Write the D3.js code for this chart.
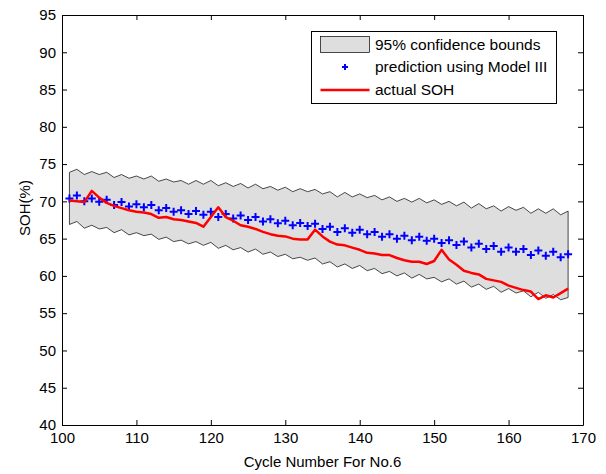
<!DOCTYPE html>
<html>
<head>
<meta charset="utf-8">
<script src="https://cdnjs.cloudflare.com/ajax/libs/d3/7.8.5/d3.min.js"></script>
<style>
  body { margin: 0; background: #fff; }
  text { font-family: "Liberation Sans", Arial, sans-serif; }
</style>
</head>
<body>
<script>
// cycle numbers of the test set
var cycles = [101,102,103,104,105,106,107,108,109,110,111,112,113,114,115,116,117,
              118,119,120,121,122,123,124,125,126,127,128,129,130,131,132,133,134,
              135,136,137,138,139,140,141,142,143,144,145,146,147,148,149,150,151,
              152,153,154,155,156,157,158,159,160,161,162,163,164,165,166,167,168];

// prediction using Model III
var predicted = [70.4,70.8,70.0,70.4,69.95,70.2,69.5,69.9,69.3,69.6,69.2,69.5,68.8,69.1,68.6,68.8,68.3,
                 68.7,68.2,68.6,67.9,68.3,67.7,68.1,67.5,67.9,67.3,67.6,67.05,67.4,66.8,67.1,66.7,67.0,
                 66.3,66.6,65.9,66.4,65.8,66.2,65.6,65.9,65.25,65.6,65.0,65.4,64.8,65.25,64.7,65.0,64.4,
                 64.8,64.15,64.6,63.8,64.3,63.6,64.0,63.25,63.8,63.25,63.6,62.8,63.4,62.7,63.25,62.5,62.9];

// 95% confidence bounds
var upper = [73.9,74.3,73.6,74.0,73.6,73.9,73.2,73.6,73.1,73.4,73.0,73.4,72.7,73.0,72.6,72.8,72.3,
             72.8,72.3,72.8,72.1,72.5,72.0,72.4,71.8,72.3,71.7,72.0,71.5,71.9,71.3,71.7,71.3,71.6,
             71.0,71.3,70.6,71.2,70.6,71.0,70.5,70.8,70.2,70.6,70.0,70.4,69.9,70.4,69.8,70.2,69.6,
             70.0,69.4,69.9,69.1,69.7,69.0,69.4,68.7,69.3,68.8,69.2,68.4,69.0,68.4,69.0,68.2,68.7];
var lower = [66.9,67.3,66.4,66.8,66.3,66.5,65.8,66.2,65.5,65.8,65.4,65.6,64.9,65.2,64.6,64.8,64.3,
             64.6,64.1,64.5,63.7,64.1,63.5,63.8,63.2,63.6,62.9,63.2,62.6,62.9,62.3,62.5,62.1,62.4,
             61.6,61.9,61.2,61.6,61.0,61.4,60.7,61.0,60.3,60.6,60.0,60.4,59.7,60.2,59.6,59.8,59.2,
             59.6,58.9,59.3,58.5,58.9,58.2,58.6,57.8,58.3,57.7,58.0,57.2,57.8,57.0,57.5,56.8,57.1];

// actual SOH
var actual = [70.1,70.0,69.9,71.4,70.5,69.8,69.4,69.1,68.8,68.6,68.5,68.3,67.8,67.9,67.6,67.5,67.3,
              67.1,66.6,67.9,69.2,67.9,67.4,66.8,66.6,66.3,65.9,65.6,65.4,65.3,65.0,64.9,64.9,66.2,
              65.3,64.6,64.2,64.1,63.8,63.5,63.1,63.0,62.8,62.8,62.4,62.1,61.9,61.9,61.6,62.0,63.5,
              62.2,61.5,60.7,60.4,60.2,59.6,59.4,59.2,58.7,58.4,58.1,57.9,56.9,57.4,57.1,57.7,58.3];

var xTicks = [100,110,120,130,140,150,160,170];
var yTicks = [40,45,50,55,60,65,70,75,80,85,90,95];

var legendLabels = ['95% confidence bounds', 'prediction using Model III', 'actual SOH'];

var w = 606,
    h = 474;

var svg = d3.select('body')
            .append('svg')
            .attr('width', w)
            .attr('height', h);

var x = d3.scaleLinear()
          .domain([100, 170])
          .range([62, 583]);

var y = d3.scaleLinear()
          .domain([40, 95])
          .range([425, 15]);

var rows = cycles.map(function(c, i) {
  return {c: c, p: predicted[i], hi: upper[i], lo: lower[i], a: actual[i]};
});

// confidence band
var band = d3.area()
             .x(function(d) { return x(d.c); })
             .y0(function(d) { return y(d.lo); })
             .y1(function(d) { return y(d.hi); });

svg.append('path')
   .datum(rows)
   .attr('d', band)
   .style('fill', '#dedede')
   .style('stroke', '#000')
   .style('stroke-width', 0.7);

// prediction markers
var plus = 'M-4,0H4M0,-4V4';

svg.selectAll('.pred')
   .data(rows)
   .enter()
   .append('path')
   .attr('class', 'pred')
   .attr('transform', function(d) {
      return 'translate(' + x(d.c) + ',' + y(d.p) + ')';
    })
   .attr('d', plus)
   .style('stroke', '#0000ff')
   .style('stroke-width', 2)
   .style('fill', 'none');

// actual SOH line
var line = d3.line()
             .x(function(d) { return x(d.c); })
             .y(function(d) { return y(d.a); });

svg.append('path')
   .datum(rows)
   .attr('d', line)
   .style('fill', 'none')
   .style('stroke', '#ff0000')
   .style('stroke-width', 2.5)
   .style('stroke-linejoin', 'round');

// axes, ticks pointing inward on all four sides
function styleAxis(g) {
  g.selectAll('path, line').style('stroke', '#000').style('stroke-width', 1);
  g.selectAll('text').style('font-size', '15px').style('fill', '#000');
}

svg.append('g')
   .attr('transform', 'translate(0,425)')
   .call(d3.axisBottom(x).tickValues(xTicks).tickSizeInner(-5).tickSizeOuter(0).tickPadding(7))
   .call(styleAxis);

svg.append('g')
   .attr('transform', 'translate(0,15)')
   .call(d3.axisTop(x).tickValues(xTicks).tickSizeInner(-5).tickSizeOuter(0).tickFormat(''))
   .call(styleAxis);

svg.append('g')
   .attr('transform', 'translate(62,0)')
   .call(d3.axisLeft(y).tickValues(yTicks).tickSizeInner(-5).tickSizeOuter(0).tickPadding(6))
   .call(styleAxis);

svg.append('g')
   .attr('transform', 'translate(583,0)')
   .call(d3.axisRight(y).tickValues(yTicks).tickSizeInner(-5).tickSizeOuter(0).tickFormat(''))
   .call(styleAxis);

// axis titles
svg.append('text')
   .attr('x', 322.5)
   .attr('y', 467)
   .attr('text-anchor', 'middle')
   .style('font-size', '15px')
   .text('Cycle Number For No.6');

svg.append('text')
   .attr('transform', 'translate(30,208) rotate(-90)')
   .attr('text-anchor', 'middle')
   .style('font-size', '15px')
   .text('SOH(%)');

// legend
var legend = svg.append('g');

legend.append('rect')
      .attr('x', 311.5)
      .attr('y', 31.5)
      .attr('width', 245)
      .attr('height', 72)
      .style('fill', '#fff')
      .style('stroke', '#000')
      .style('stroke-width', 1);

legend.append('rect')
      .attr('x', 320.5)
      .attr('y', 36.5)
      .attr('width', 49)
      .attr('height', 16)
      .style('fill', '#dedede')
      .style('stroke', '#000')
      .style('stroke-width', 0.7);

legend.append('path')
      .attr('transform', 'translate(345,67)')
      .attr('d', 'M-3,0H3M0,-3V3')
      .style('stroke', '#0000ff')
      .style('stroke-width', 2);

legend.append('line')
      .attr('x1', 320.5)
      .attr('x2', 369.5)
      .attr('y1', 90)
      .attr('y2', 90)
      .style('stroke', '#ff0000')
      .style('stroke-width', 2.5);

legend.selectAll('.lab')
      .data(legendLabels)
      .enter()
      .append('text')
      .attr('class', 'lab')
      .attr('x', 375)
      .attr('y', function(d, i) { return [45, 67, 90][i]; })
      .attr('dy', '0.35em')
      .style('font-size', '15.5px')
      .text(function(d) { return d; });
</script>
</body>
</html>
